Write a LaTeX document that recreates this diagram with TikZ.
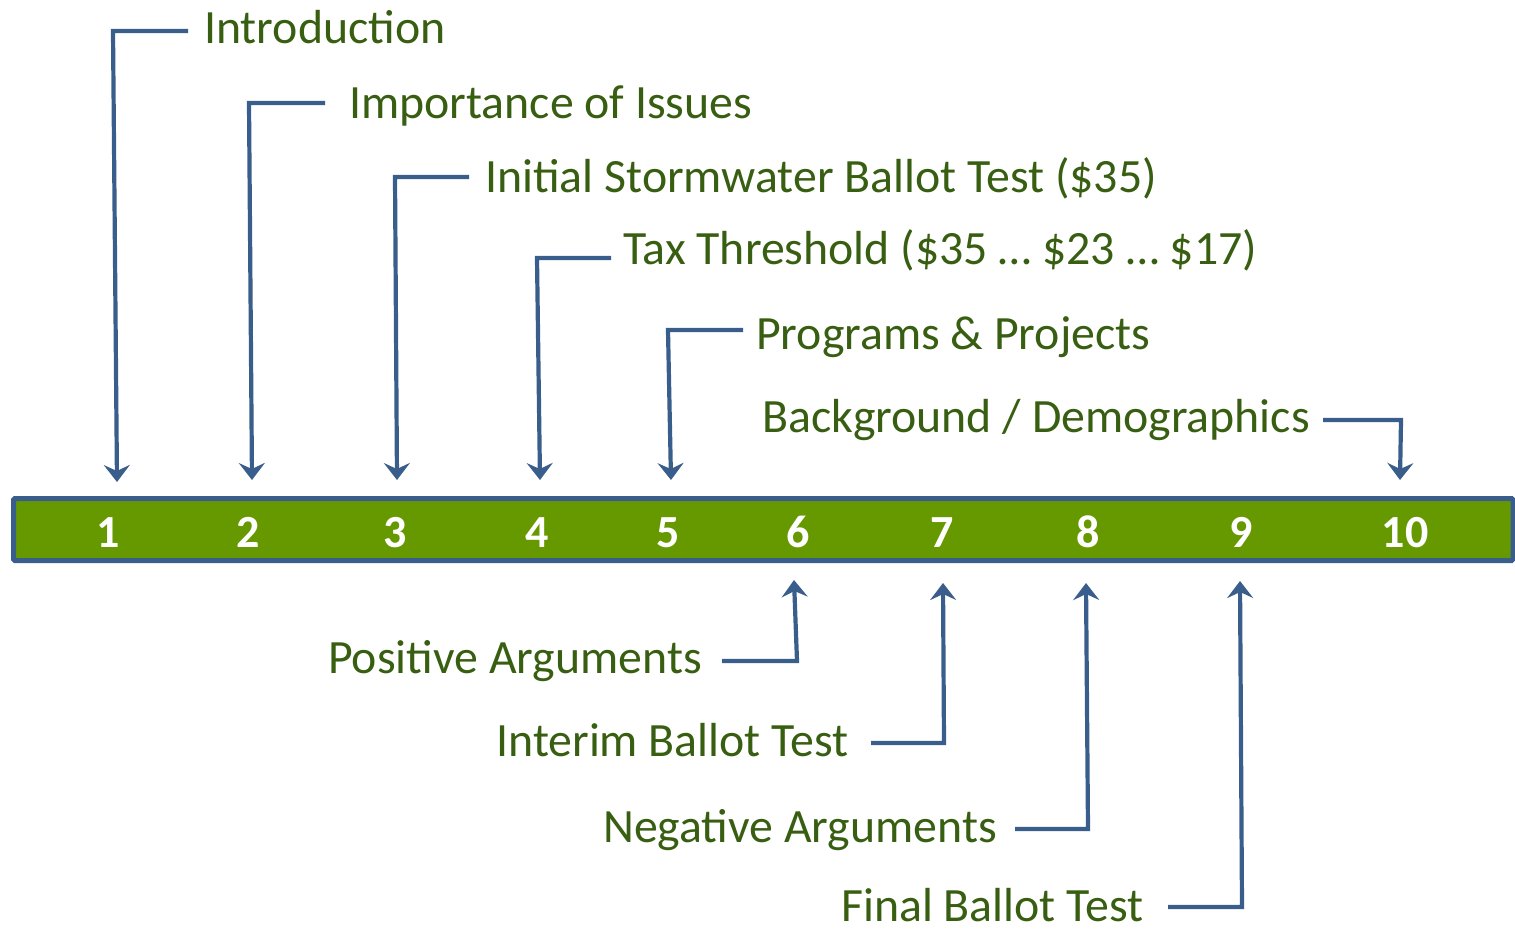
\documentclass[tikz,border=0pt]{standalone}
\usepackage{fontspec}
\setmainfont{Carlito}
\usetikzlibrary{arrows.meta}
\definecolor{lineblue}{RGB}{58,94,140}
\definecolor{bargreen}{RGB}{102,153,0}
\definecolor{txtgreen}{RGB}{56,94,18}
\begin{document}
\begin{tikzpicture}[x=1pt,y=-1pt,
  lbl/.style={anchor=base west, inner sep=0pt, text=txtgreen, font=\fontsize{47.8}{56}\selectfont},
  lblr/.style={lbl, anchor=base east},
  num/.style={anchor=base, inner sep=0pt, text=white, font=\fontsize{46}{55}\selectfont\bfseries},
  conn/.style={draw=lineblue, line width=4.2pt, -{Stealth[length=17pt,width=26pt,inset=6pt]}},
  barbox/.style={draw=lineblue, fill=bargreen, line width=5pt, rounded corners=1.5pt}]
\useasboundingbox (0,0) rectangle (1515,929);
% bar
\draw[barbox] (13.5,498.5) rectangle (1513,560.5);
% numbers
\node[num] (n1) at (108,547) {1};
\node[num] (n2) at (248,547) {2};
\node[num] (n3) at (395,547) {3};
\node[num] (n4) at (537,547) {4};
\node[num] (n5) at (668,547) {5};
\node[num] (n6) at (798,547) {6};
\node[num] (n7) at (942,547) {7};
\node[num] (n8) at (1088,547) {8};
\node[num] (n9) at (1241,547) {9};
\node[num] (n10) at (1405,547) {10};
% labels
\node[lbl] (t1) at (204,43) {Introduction};
\node[lbl] (t2) at (349,118) {Importance of Issues};
\node[lbl] (t3) at (485,192) {Initial Stormwater Ballot Test (\$35)};
\node[lbl] (t4) at (623,264) {Tax Threshold (\$35 … \$23 … \$17)};
\node[lbl] (t5) at (756,349) {Programs \& Projects};
\node[lbl] (t10) at (762,432) {Background / Demographics};
\node[lblr] (t6) at (702,673) {Positive Arguments};
\node[lblr] (t7) at (849,756) {Interim Ballot Test};
\node[lblr] (t8) at (997,842) {Negative Arguments};
\node[lblr, text depth=0pt] (t9) at (1144,921) {Final Ballot Test};
% connector coordinates
\coordinate (s1) at (188,31);  \coordinate (k1) at (113,31);  \coordinate (a1) at (117,482);
\coordinate (s2) at (325,103); \coordinate (k2) at (249,103); \coordinate (a2) at (252,480);
\coordinate (s3) at (469,177); \coordinate (k3) at (395,177); \coordinate (a3) at (397,480);
\coordinate (s4) at (611,258); \coordinate (k4) at (537,258); \coordinate (a4) at (540,480);
\coordinate (s5) at (743,330); \coordinate (k5) at (668,330); \coordinate (a5) at (671,480);
\coordinate (s10) at (1323,420); \coordinate (k10) at (1401,420); \coordinate (a10) at (1400,480);
\coordinate (s6) at (722,661); \coordinate (k6) at (797,661); \coordinate (a6) at (794,580);
\coordinate (s7) at (871,743); \coordinate (k7) at (944,743); \coordinate (a7) at (943,583);
\coordinate (s8) at (1015,829); \coordinate (k8) at (1088,829); \coordinate (a8) at (1086,583);
\coordinate (s9) at (1168,907); \coordinate (k9) at (1242,907); \coordinate (a9) at (1240,581);
% connectors
\draw[conn] (s1) -- (k1) -- (a1);
\draw[conn] (s2) -- (k2) -- (a2);
\draw[conn] (s3) -- (k3) -- (a3);
\draw[conn] (s4) -- (k4) -- (a4);
\draw[conn] (s5) -- (k5) -- (a5);
\draw[conn] (s10) -- (k10) -- (a10);
\draw[conn] (s6) -- (k6) -- (a6);
\draw[conn] (s7) -- (k7) -- (a7);
\draw[conn] (s8) -- (k8) -- (a8);
\draw[conn] (s9) -- (k9) -- (a9);
\end{tikzpicture}
\end{document}
